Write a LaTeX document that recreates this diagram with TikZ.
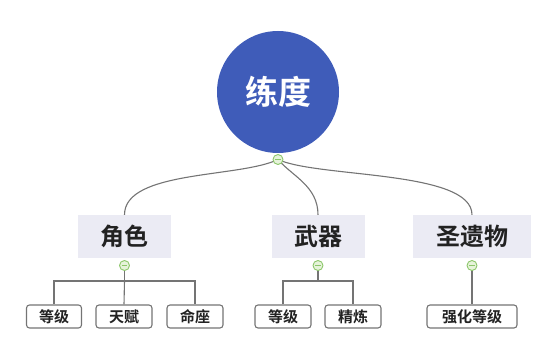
\documentclass[tikz,border=0pt]{standalone}
\usepackage{fontspec}
\newfontfamily\cjk{Noto Sans CJK SC}
\newfontfamily\cjkb{Noto Sans CJK SC Bold}
\definecolor{rootblue}{HTML}{3F5CB9}
\definecolor{lvlfill}{HTML}{EBEBF4}
\definecolor{linegray}{HTML}{747474}
\definecolor{togfill}{HTML}{E6F3DA}
\definecolor{togline}{HTML}{8CC66B}
\definecolor{txt}{HTML}{222222}
\begin{document}
\begin{tikzpicture}[x=1pt,y=-1pt,
  rootnode/.style={circle,fill=rootblue,minimum size=122pt,inner sep=0pt,text=white,font=\cjkb\fontsize{33}{36}\selectfont},
  topicbox/.style={rectangle,fill=lvlfill,minimum height=43pt,inner sep=0pt,text=txt,font=\cjkb\fontsize{24}{26}\selectfont},
  leafbox/.style={rectangle,rounded corners=3pt,draw=linegray,line width=1.1pt,fill=white,minimum height=23pt,inner sep=0pt,text=txt,font=\cjkb\fontsize{15}{17}\selectfont},
  conn/.style={draw=linegray,line width=1.1pt},
  toggle/.style={circle,draw=togline,fill=togfill,line width=0.9pt,minimum size=10pt,inner sep=0pt}]
\useasboundingbox (0,0) rectangle (554,344);
% root
\node[rootnode] (root) at (278,92) {练度};
% level 1
\node[topicbox,minimum width=93pt] (js) at (124.5,236.5) {角色};
\node[topicbox,minimum width=93pt] (wq) at (318,236.5) {武器};
\node[topicbox,minimum width=118pt] (syw) at (472,236.5) {圣遗物};
% level 2
\node[leafbox,minimum width=55pt] (jsa) at (54,316.5) {等级};
\node[leafbox,minimum width=56pt] (jsb) at (124,316.5) {天赋};
\node[leafbox,minimum width=56pt] (jsc) at (195,316.5) {命座};
\node[leafbox,minimum width=56pt] (wqa) at (283,316.5) {等级};
\node[leafbox,minimum width=56pt] (wqb) at (353,316.5) {精炼};
\node[leafbox,minimum width=90pt] (syya) at (472,316.5) {强化等级};
% toggles positions
\coordinate (t0) at (278,159.5);
\coordinate (t1) at (124.5,265.5);
\coordinate (t2) at (318,265.5);
\coordinate (t3) at (472,265.5);
\coordinate (b1) at (124.5,281);
\coordinate (b2) at (318,281);
% curved connectors
\draw[conn] (t0) .. controls (240,178) and (124.5,170) .. (js.north);
\draw[conn] (t0) .. controls (292,176) and (318,186) .. (wq.north);
\draw[conn] (t0) .. controls (318,178) and (472,170) .. (syw.north);
% elbow connectors
\draw[conn] (t1) -- (b1);
\draw[conn] (jsa.north) |- (b1) -| (jsc.north);
\draw[conn] (b1) -- (jsb.north);
\draw[conn] (t2) -- (b2);
\draw[conn] (wqa.north) |- (b2) -| (wqb.north);
\draw[conn] (t3) -- (syya.north);
% toggles
\foreach \t in {t0,t1,t2,t3}{
  \node[toggle] (tg\t) at (\t) {};
  \draw[togline,line width=1pt] ([xshift=-2.8pt]tg\t.center) -- ([xshift=2.8pt]tg\t.center);
}
\end{tikzpicture}
\end{document}
